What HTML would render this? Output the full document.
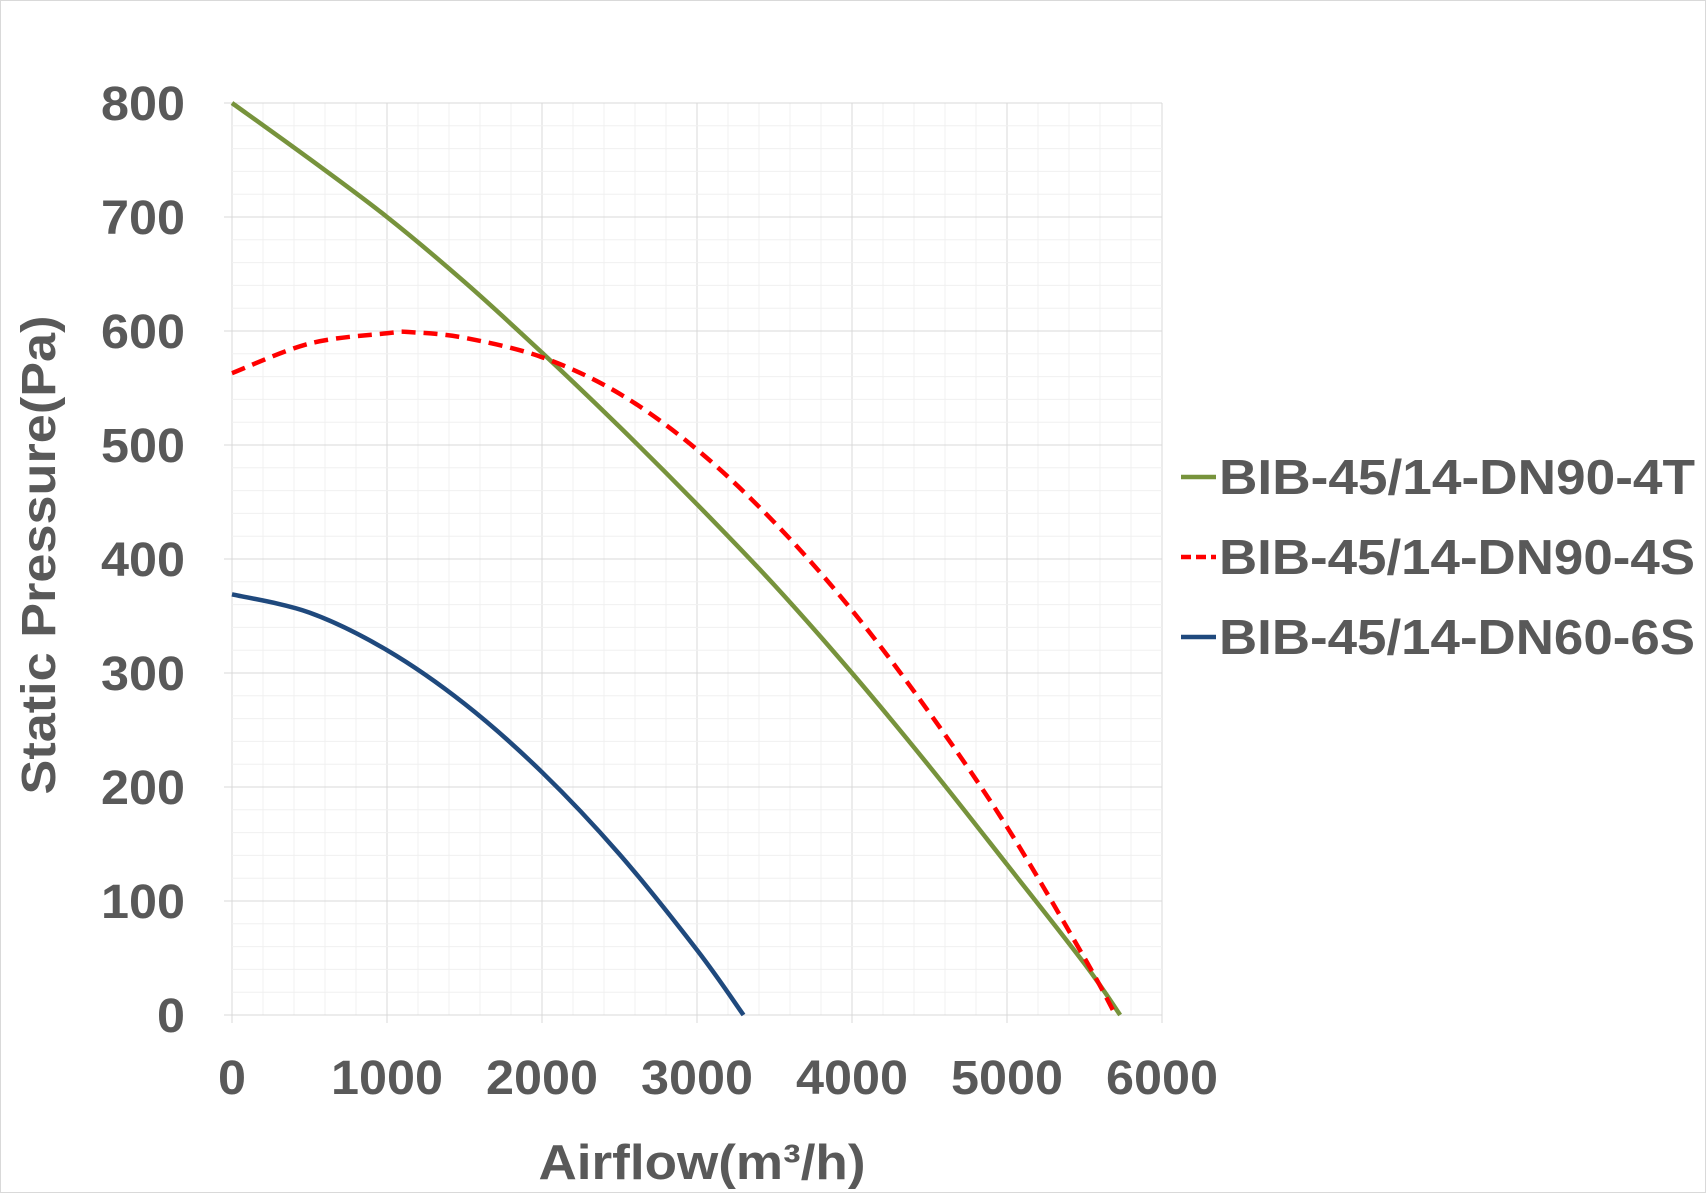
<!DOCTYPE html>
<html><head><meta charset="utf-8"><style>
html,body{margin:0;padding:0;background:#fff}
svg{display:block}
text{font-family:"Liberation Sans",Arial,sans-serif;font-weight:bold;fill:#595959}
</style></head><body>
<svg id="chart" width="1706" height="1193" viewBox="0 0 1706 1193" xmlns="http://www.w3.org/2000/svg">
<rect x="0.5" y="0.5" width="1705" height="1192" fill="#fff" stroke="#d9d9d9"/>
<g id="grid"></g>
<g id="axes"></g>
<g id="series"></g>
<text transform="translate(55,555) rotate(-90)" text-anchor="middle" font-size="48" textLength="479" lengthAdjust="spacingAndGlyphs">Static Pressure(Pa)</text>
<text x="702" y="1179" text-anchor="middle" font-size="49" textLength="327" lengthAdjust="spacingAndGlyphs">Airflow(m³/h)</text>
<g id="legend"></g>
</svg>
<script>
const xTicks=[0,1000,2000,3000,4000,5000,6000];
const yTicks=[0,100,200,300,400,500,600,700,800];
const s4T_x=[0,500,1000,1500,2000,2500,3000,3500,4000,4500,5000,5500,5730];
const s4T_y=[800,751,700,643,581,516,448,377,300,218,132,45,0];
const s4S_x=[0,500,1000,1150,1500,2000,2500,3000,3500,4000,4500,5000,5500,5700];
const s4S_y=[563,589,598,599,594,577,545,496,432,355,265,165,50,0];
const s6S_x=[0,500,1000,1500,2000,2500,3000,3300];
const s6S_y=[369,353,320,273,213,141,57,0];
const seriesNames=["BIB-45/14-DN90-4T","BIB-45/14-DN90-4S","BIB-45/14-DN60-6S"];

const X0=232,X1=1162,Y0=1015,Y1=103;
const sx=v=>X0+(v-0)/6000*(X1-X0);
const sy=v=>Y0-(v-0)/800*(Y0-Y1);
const NS="http://www.w3.org/2000/svg";
function mk(tag,attrs,parent){const e=document.createElementNS(NS,tag);for(const k in attrs)e.setAttribute(k,attrs[k]);parent.appendChild(e);return e;}
const grid=document.getElementById('grid'),axes=document.getElementById('axes'),ser=document.getElementById('series'),leg=document.getElementById('legend');
for(let v=0;v<=6000;v+=200){const l=mk('line',{x1:sx(v),x2:sx(v),y1:Y1,y2:Y0,stroke:v%1000===0?'#d9d9d9':'#f0f0f0','stroke-width':1},grid);

}
for(let v=0;v<=800;v+=20){const l=mk('line',{x1:X0,x2:X1,y1:sy(v),y2:sy(v),stroke:v%100===0?'#d9d9d9':'#f0f0f0','stroke-width':1},grid);

}
xTicks.forEach(v=>{const len=String(v).length*28;const t=mk('text',{x:sx(v),y:1094,'text-anchor':'middle','font-size':48,textLength:len,lengthAdjust:'spacingAndGlyphs'},axes);t.textContent=v;


const k=mk('line',{x1:sx(v),x2:sx(v),y1:Y0,y2:Y0+8,stroke:'#d9d9d9'},axes);

});
yTicks.forEach(v=>{const len=String(v).length*28;const t=mk('text',{x:185,y:sy(v)+17,'text-anchor':'end','font-size':48,textLength:len,lengthAdjust:'spacingAndGlyphs'},axes);t.textContent=v;


const k=mk('line',{x1:X0-8,x2:X0,y1:sy(v),y2:sy(v),stroke:'#d9d9d9'},axes);

});
function smooth(xs,ys){const p=xs.map((x,i)=>[sx(x),sy(ys[i])]);let d='M'+p[0][0]+','+p[0][1];
for(let i=0;i<p.length-1;i++){const a=p[Math.max(0,i-1)],b=p[i],c=p[i+1],e=p[Math.min(p.length-1,i+2)];
d+=' C'+(b[0]+(c[0]-a[0])/6)+','+(b[1]+(c[1]-a[1])/6)+' '+(c[0]-(e[0]-b[0])/6)+','+(c[1]-(e[1]-b[1])/6)+' '+c[0]+','+c[1];}return d;}
const styles=[{c:'#77933c',dash:'none'},{c:'#ff0000',dash:'14,8'},{c:'#1f497d',dash:'none'}];
const data=[[s4T_x,s4T_y],[s4S_x,s4S_y],[s6S_x,s6S_y]];
const serNames=['series-4t','series-4s','series-6s'];
data.forEach((d,i)=>{const p=mk('path',{d:smooth(d[0],d[1]),fill:'none',stroke:styles[i].c,'stroke-width':4.5,'stroke-dasharray':styles[i].dash},ser);


const ly=477+i*80;
const l=mk('line',{x1:1181,x2:1216,y1:ly,y2:ly,stroke:styles[i].c,'stroke-width':4.5,'stroke-dasharray':i===1?'10,5':'none'},leg);


const t=mk('text',{x:1219,y:ly+17,'font-size':49,textLength:476,lengthAdjust:'spacingAndGlyphs'},leg);t.textContent=seriesNames[i];

});
</script>
</body></html>
